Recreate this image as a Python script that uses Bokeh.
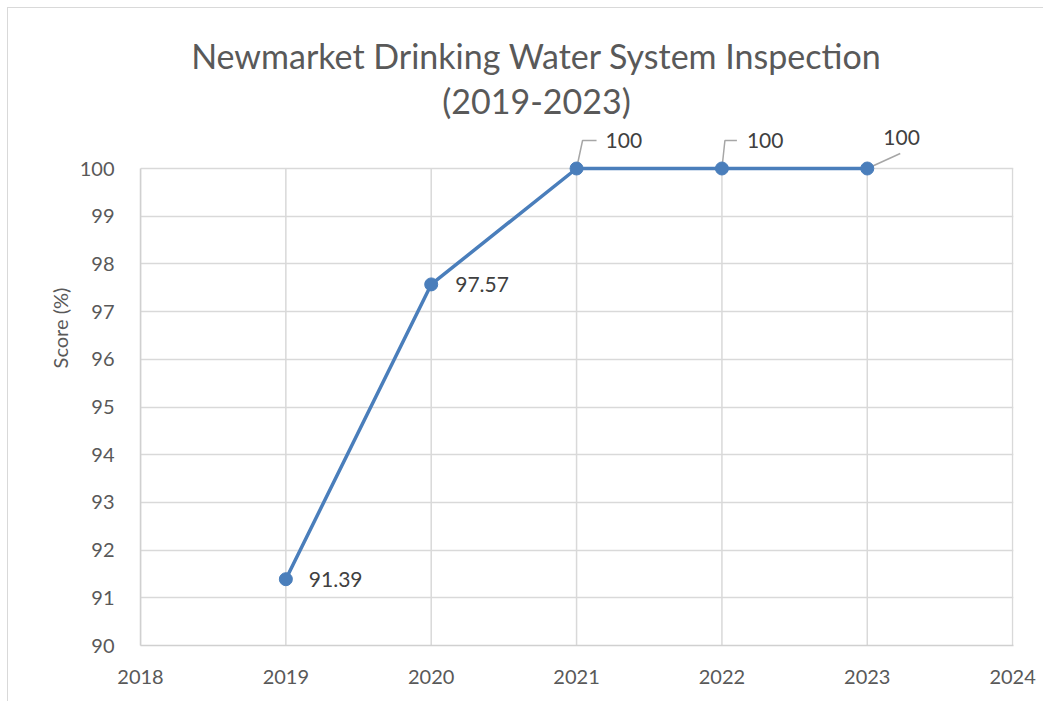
from bokeh.plotting import figure
from bokeh.models import FixedTicker, Range1d, ColumnDataSource, LabelSet, Label
from bokeh.core.properties import value
from bokeh.embed import file_html
from bokeh.resources import INLINE

# ---- data ----
years = [2019, 2020, 2021, 2022, 2023]
scores = [91.39, 97.57, 100, 100, 100]
labels = ["91.39", "97.57", "100", "100", "100"]
x_ticks = [2018, 2019, 2020, 2021, 2022, 2023, 2024]
y_ticks = [90, 91, 92, 93, 94, 95, 96, 97, 98, 99, 100]
title_lines = ["Newmarket Drinking Water System Inspection", "(2019-2023)"]
y_label = "Score (%)"

FONT = "Lato"
LINE_C = "#4a7ebb"
GRID_C = "#d9d9d9"
TXT_C = "#595959"

# layout geometry (pixels)
W, H = 1036, 694
left, right, top, bottom = 132, 31, 2, 57
frame_h = H - top - bottom
px_per_unit = 477 / (max(y_ticks) - min(y_ticks))
y_end = min(y_ticks) + frame_h / px_per_unit
frame_w = W - left - right
px_per_year = frame_w / (max(x_ticks) - min(x_ticks))

p = figure(width=W, height=H, output_backend="svg", toolbar_location=None,
           x_range=Range1d(min(x_ticks), max(x_ticks) + 0.006),
           y_range=Range1d(min(y_ticks), y_end),
           min_border_left=left, min_border_right=right,
           min_border_top=top, min_border_bottom=bottom)
p.styles = {"margin": "7px 0 0 7px",
            "border-top": "1px solid #d9d9d9", "border-left": "1px solid #d9d9d9"}
p.outline_line_color = None
p.background_fill_color = "white"
p.border_fill_color = "white"

# grid
p.xgrid.visible = False
p.ygrid.ticker = FixedTicker(ticks=y_ticks)
p.ygrid.grid_line_color = GRID_C
p.ygrid.grid_line_width = 1.5
p.segment(x0=x_ticks, x1=x_ticks, y0=[min(y_ticks)] * len(x_ticks),
          y1=[max(y_ticks)] * len(x_ticks), line_color=GRID_C, line_width=1.5)

# axes
for ax in (p.xaxis[0], p.yaxis[0]):
    ax.axis_line_color = "#d0d0d0"
    ax.axis_line_width = 1.5
    ax.major_tick_line_color = None
    ax.minor_tick_line_color = None
    ax.major_label_text_font = FONT
    ax.major_label_text_font_size = "20px"
    ax.major_label_text_color = TXT_C
p.xaxis.ticker = FixedTicker(ticks=x_ticks)
p.yaxis.ticker = FixedTicker(ticks=y_ticks)
p.yaxis.bounds = (min(y_ticks), max(y_ticks))
p.xaxis.major_label_standoff = 18
p.yaxis.major_label_standoff = 20
p.yaxis.axis_label = y_label
p.yaxis.axis_label_text_font = FONT
p.yaxis.axis_label_text_font_size = "20px"
p.yaxis.axis_label_text_font_style = "normal"
p.yaxis.axis_label_text_color = TXT_C
p.yaxis.axis_label_standoff = 5

# leader lines for the 100 labels (pixel offsets converted through the scales)
lead_dx1, lead_dx2, lead_dy = [6, 3], [20, 15], 28
for xv, yv, d1, d2 in zip(years[2:4], scores[2:4], lead_dx1, lead_dx2):
    p.line([xv, xv + d1 / px_per_year, xv + d2 / px_per_year],
           [yv, yv + lead_dy / px_per_unit, yv + lead_dy / px_per_unit],
           line_color="#a6a6a6", line_width=1.5)
p.line([years[4], years[4] + 33 / px_per_year], [scores[4], scores[4] + 15 / px_per_unit],
       line_color="#a6a6a6", line_width=1.5)

# series
p.line(years, scores, line_color=LINE_C, line_width=3.5)
p.scatter(years, scores, size=13, fill_color=LINE_C, line_color=LINE_C)

# data labels
src = ColumnDataSource(dict(x=years, y=scores, t=labels,
                            xo=[23, 24, 29, 25, 16], yo=[0, 0, 28, 28, 31]))
p.add_layout(LabelSet(x="x", y="y", text="t", source=src, x_offset="xo", y_offset="yo",
                      text_font=value(FONT), text_font_size="21px", text_color="#404040",
                      text_baseline="middle", text_align="left"))

# title (two centred lines)
title_cx = 396
for i, line in enumerate(title_lines):
    p.add_layout(Label(x=title_cx, y=frame_h - 45 - 45 * i, x_units="screen", y_units="screen",
                       text=line, text_font=FONT, text_font_size="34px",
                       text_color=TXT_C, text_align="center", text_baseline="middle"))

open("out.html", "w").write(file_html(p, INLINE))
